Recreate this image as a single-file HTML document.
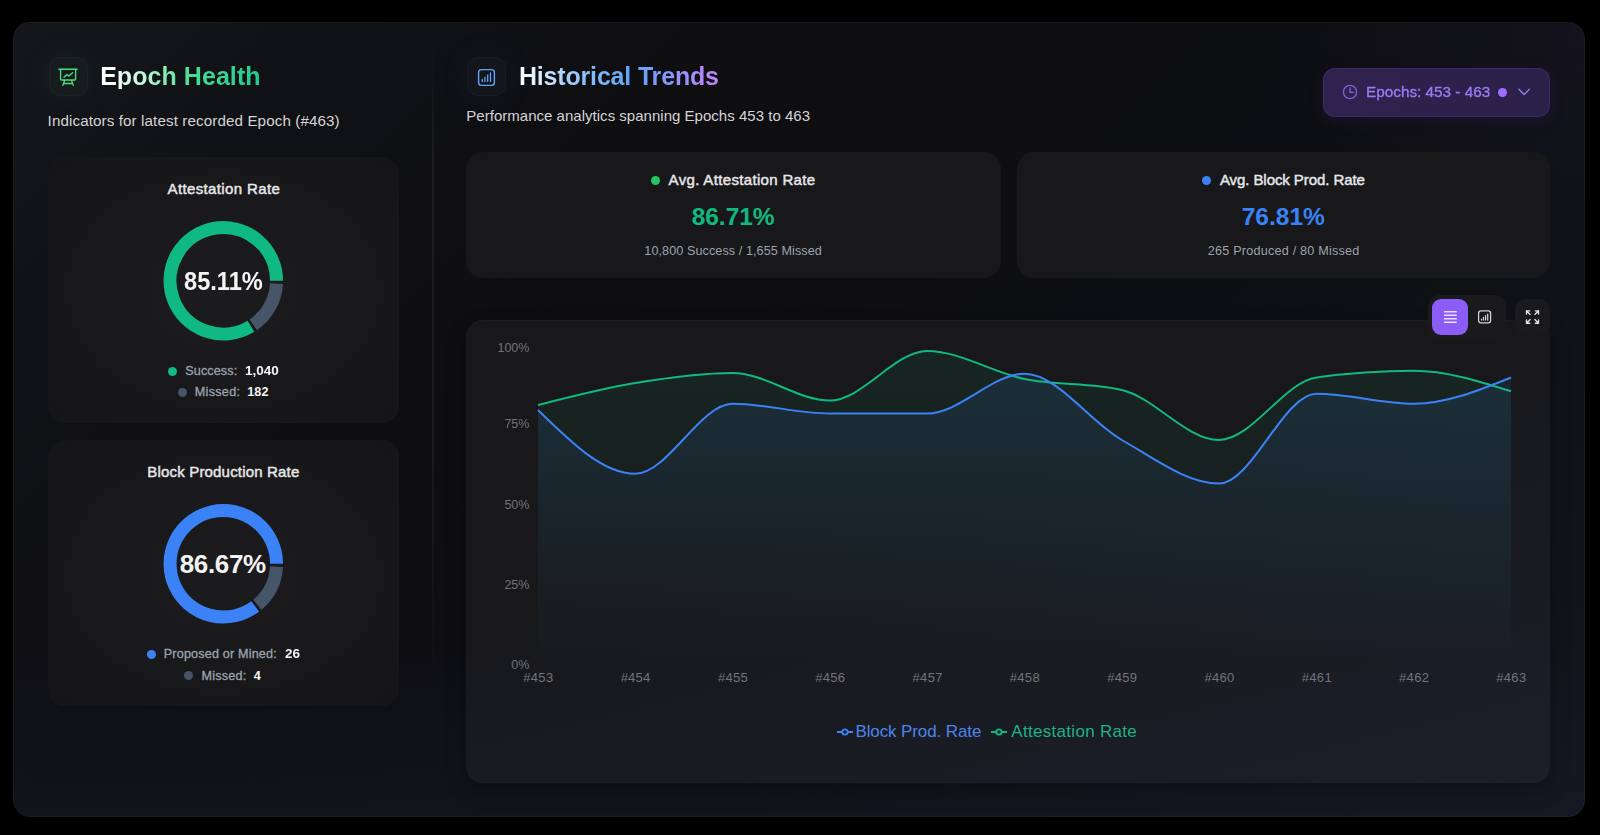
<!DOCTYPE html>
<html lang="en">
<head>
<meta charset="utf-8">
<title>Epoch Health</title>
<style>
*{box-sizing:border-box;margin:0;padding:0}
html,body{width:1600px;height:835px;background:#000;overflow:hidden}
body{font-family:"Liberation Sans",sans-serif;color:#e5e7eb;position:relative}
.abs{position:absolute}
#panel{position:absolute;left:13px;top:22px;width:1572px;height:795px;border-radius:17px;
 background:radial-gradient(circle 280px at 100% 0%,rgba(90,60,170,0.07),rgba(90,60,170,0)),linear-gradient(180deg,rgba(30,38,62,0) 78%,rgba(30,38,62,0.22) 100%),linear-gradient(135deg,#15171c 0%,#101114 14%,#0e0e11 35%,#0e0f12 65%,#12151d 100%);
 box-shadow:inset 0 0 0 1px rgba(255,255,255,0.04)}
.card{position:absolute;background:radial-gradient(ellipse at center,#1c1c1e 0%,#19191b 50%,#151517 100%);border-radius:17px}
.t{position:absolute;white-space:nowrap;line-height:1}
.iconbox{position:absolute;width:40px;height:40px;border-radius:11px}
.dot{position:absolute;border-radius:50%}
</style>
</head>
<body>
<div id="panel"></div>

<div class="abs" style="left:431.500px;top:40px;width:2px;height:760px;background:linear-gradient(180deg,rgba(255,255,255,0),rgba(255,255,255,0.055) 15%,rgba(255,255,255,0.055) 55%,rgba(255,255,255,0) 85%)"></div>
<div class="iconbox" style="left:49px;top:57px;width:39px;height:39px;background:rgba(110,231,183,0.035);box-shadow:0 0 30px 4px rgba(16,185,129,0.06), inset 0 0 0 1px rgba(134,239,172,0.04)"></div>
<svg class="abs" style="left:0;top:0" width="120" height="120" viewBox="0 0 120 120" fill="none" stroke="#4ade80" stroke-width="1.350" stroke-linecap="round" stroke-linejoin="round">
 <path d="M58.900 69.200H77.100M60.600 69.200V79.200a0.800 0.800 0 0 0 0.800 0.800H74.800a0.800 0.800 0 0 0 0.800-0.800V69.200M64.700 80.200L62.900 85.400M71.500 80.200L73.300 85.400M63.600 83.500H72.600"/>
 <path d="M64 77.300L66.900 74.400L68.800 76.100L72.600 72.700"/>
</svg>
<div class="t" style="left:100.15px;top:64.30px;font-size:25.00px;font-weight:700;letter-spacing:0.059px;background:linear-gradient(90deg,#ffffff 0%,#ffffff 6%,#b5f5d3 30%,#4ade90 55%,#22c993 100%);-webkit-background-clip:text;background-clip:text;color:transparent;">Epoch Health</div>
<div class="t" style="left:47.60px;top:112.80px;font-size:15.20px;letter-spacing:0.100px;color:#d4d4d8;">Indicators for latest recorded Epoch (#463)</div>
<div class="card" style="left:48px;top:157px;width:351px;height:266px"></div>
<div class="t" style="left:167.50px;top:181.20px;font-size:15.00px;letter-spacing:0.373px;color:#e7e7ea;-webkit-text-stroke:0.45px #e7e7ea;">Attestation Rate</div>
<svg class="abs" style="left:0;top:0" width="450" height="835" viewBox="0 0 450 835"><path d="M250.96,326.31A53.25,53.25,0,1,1,276.55,280.80" fill="none" stroke="#10b981" stroke-width="13.00"/><path d="M276.48,283.59A53.25,53.25,0,0,1,253.30,324.80" fill="none" stroke="#475569" stroke-width="13.00"/></svg>
<div class="t" style="left:183.77px;top:267.50px;font-size:26.00px;font-weight:700;color:#f4f4f5;transform:scaleX(0.9086);transform-origin:0 0;">85.11%</div>
<div class="dot" style="left:168.00px;top:366.50px;width:9.00px;height:9.00px;background:#10b981"></div>
<div class="t" style="left:185.25px;top:364.60px;font-size:12.60px;letter-spacing:0.114px;color:#9ca3af;-webkit-text-stroke:0.30px #9ca3af;">Success:</div>
<div class="t" style="left:244.69px;top:364.60px;font-size:12.60px;font-weight:700;color:#f4f4f5;transform:scaleX(1.0744);transform-origin:0 0;">1,040</div>
<div class="dot" style="left:178.00px;top:387.50px;width:9.00px;height:9.00px;background:#475569"></div>
<div class="t" style="left:194.80px;top:386.00px;font-size:12.60px;letter-spacing:0.292px;color:#9ca3af;-webkit-text-stroke:0.30px #9ca3af;">Missed:</div>
<div class="t" style="left:247.25px;top:386.00px;font-size:12.60px;font-weight:700;letter-spacing:0.100px;color:#f4f4f5;">182</div>
<div class="card" style="left:48px;top:440px;width:351px;height:266px"></div>
<div class="t" style="left:147.30px;top:464.20px;font-size:15.00px;letter-spacing:0.178px;color:#e7e7ea;-webkit-text-stroke:0.45px #e7e7ea;">Block Production Rate</div>
<svg class="abs" style="left:0;top:0" width="450" height="835" viewBox="0 0 450 835"><path d="M255.21,606.43A53.25,53.25,0,1,1,276.55,563.80" fill="none" stroke="#3b82f6" stroke-width="13.00"/><path d="M276.48,566.59A53.25,53.25,0,0,1,257.39,604.70" fill="none" stroke="#475569" stroke-width="13.00"/></svg>
<div class="t" style="left:179.70px;top:550.50px;font-size:26.00px;font-weight:700;letter-spacing:-0.340px;color:#f4f4f5;">86.67%</div>
<div class="dot" style="left:146.90px;top:649.50px;width:9.00px;height:9.00px;background:#3b82f6"></div>
<div class="t" style="left:163.80px;top:648.20px;font-size:12.60px;letter-spacing:0.176px;color:#9ca3af;-webkit-text-stroke:0.30px #9ca3af;">Proposed or Mined:</div>
<div class="t" style="left:284.67px;top:648.20px;font-size:12.60px;font-weight:700;color:#f4f4f5;transform:scaleX(1.0758);transform-origin:0 0;">26</div>
<div class="dot" style="left:184.30px;top:670.70px;width:9.00px;height:9.00px;background:#475569"></div>
<div class="t" style="left:201.40px;top:669.80px;font-size:12.60px;letter-spacing:0.258px;color:#9ca3af;-webkit-text-stroke:0.30px #9ca3af;">Missed:</div>
<div class="t" style="left:253.75px;top:669.80px;font-size:12.60px;font-weight:700;color:#f4f4f5;">4</div>
<div class="iconbox" style="left:467px;top:57px;width:39px;height:39px;background:rgba(147,197,253,0.035);box-shadow:0 0 30px 4px rgba(59,130,246,0.06), inset 0 0 0 1px rgba(147,197,253,0.04)"></div>
<svg class="abs" style="left:440px;top:40px" width="80" height="80" viewBox="440 40 80 80" fill="none" stroke="#60a5fa" stroke-width="1.400" stroke-linecap="round" stroke-linejoin="round">
 <rect x="478.600" y="69.600" width="15.800" height="15.800" rx="2.800"/>
 <path d="M482.300 81.500V79.400M485 81.500V77.200M487.700 81.500V75M490.500 81.500V72.800" stroke-width="1.300"/>
</svg>
<div class="t" style="left:518.95px;top:64.40px;font-size:25.00px;font-weight:700;letter-spacing:-0.175px;background:linear-gradient(90deg,#ffffff 0%,#93c5fd 30%,#60a5fa 55%,#c084fc 100%);-webkit-background-clip:text;background-clip:text;color:transparent;">Historical Trends</div>
<div class="t" style="left:466.30px;top:107.50px;font-size:15.00px;letter-spacing:0.022px;color:#d4d4d8;">Performance analytics spanning Epochs 453 to 463</div>
<div class="abs" style="left:1323px;top:68px;width:227px;height:49px;border-radius:12px;background:linear-gradient(90deg,#30224f,#2a2149);box-shadow:inset 0 0 0 1px rgba(139,92,246,0.16),0 4px 16px rgba(88,50,170,0.14)"></div>
<svg class="abs" style="left:1341.700px;top:84px" width="16" height="16" viewBox="0 0 16 16" fill="none" stroke="#7f5fd0" stroke-width="1.400" stroke-linecap="round" stroke-linejoin="round"><circle cx="8" cy="8" r="6.600"/><path d="M8 4v4.200h3.400"/></svg>
<div class="t" style="left:1365.99px;top:84.90px;font-size:14.50px;color:#9a7bf0;-webkit-text-stroke:0.35px #9a7bf0;transform:scaleX(1.0556);transform-origin:0 0;">Epochs: 453 - 463</div>
<div class="dot" style="left:1498.20px;top:87.80px;width:8.80px;height:8.80px;background:#9b6eff"></div>
<svg class="abs" style="left:1517px;top:87px" width="14" height="10" viewBox="0 0 14 10" fill="none" stroke="#9a7bf0" stroke-width="1.400" stroke-linecap="round" stroke-linejoin="round"><path d="M1.900 2.300l5.200 5.300 5.200-5.300"/></svg>
<div class="card" style="left:466px;top:152px;width:535px;height:126px;background:#18181a"></div>
<div class="dot" style="left:650.65px;top:175.85px;width:9.50px;height:9.50px;background:#22c55e"></div>
<div class="t" style="left:668.60px;top:172.10px;font-size:15.00px;letter-spacing:0.337px;color:#e7e7ea;-webkit-text-stroke:0.45px #e7e7ea;">Avg. Attestation Rate</div>
<div class="t" style="left:691.65px;top:205.10px;font-size:24.50px;font-weight:700;letter-spacing:-0.020px;color:#10b981;">86.71%</div>
<div class="t" style="left:644.30px;top:245.25px;font-size:12.60px;letter-spacing:0.089px;color:#9ca3af;">10,800 Success / 1,655 Missed</div>
<div class="card" style="left:1017px;top:152px;width:533px;height:126px;background:#18181a"></div>
<div class="dot" style="left:1201.85px;top:175.85px;width:9.50px;height:9.50px;background:#3b82f6"></div>
<div class="t" style="left:1219.90px;top:172.10px;font-size:15.00px;letter-spacing:-0.073px;color:#e7e7ea;-webkit-text-stroke:0.45px #e7e7ea;">Avg. Block Prod. Rate</div>
<div class="t" style="left:1241.70px;top:205.10px;font-size:24.50px;font-weight:700;letter-spacing:0.020px;color:#3b82f6;">76.81%</div>
<div class="t" style="left:1207.80px;top:245.25px;font-size:12.60px;letter-spacing:0.226px;color:#9ca3af;">265 Produced / 80 Missed</div>
<div class="card" style="left:466px;top:320px;width:1084px;height:463px;background:linear-gradient(166deg,#18181a 0%,#18181a 40%,#1b1f2a 100%);box-shadow:0 8px 20px rgba(0,0,0,0.25), inset 0 1px 0 rgba(255,255,255,0.025)"></div>
<svg class="abs" style="left:0;top:0" width="1600" height="835" viewBox="0 0 1600 835">
 <defs>
  <linearGradient id="gG" x1="0" y1="0" x2="0" y2="1"><stop offset="0" stop-color="#10b981" stop-opacity="0.085"/><stop offset="1" stop-color="#10b981" stop-opacity="0"/></linearGradient>
  <linearGradient id="gB" x1="0" y1="0" x2="0" y2="1"><stop offset="0" stop-color="#3b82f6" stop-opacity="0.11"/><stop offset="1" stop-color="#3b82f6" stop-opacity="0"/></linearGradient>
 </defs>
 <path fill="url(#gG)" d="M538.00,405.00C570.43,396.67,602.87,388.33,635.30,383.00C667.73,377.67,700.17,373.00,732.60,373.00C765.03,373.00,797.47,400.50,829.90,400.50C862.33,400.50,894.77,351.00,927.20,351.00C959.63,351.00,992.07,372.50,1024.50,379.00C1056.93,385.50,1089.37,382.67,1121.80,390.00C1154.23,397.33,1186.67,440.00,1219.10,440.00C1251.53,440.00,1283.97,382.00,1316.40,377.50C1348.83,373.00,1381.27,370.75,1413.70,370.75C1446.13,370.75,1478.57,381.00,1511.00,391.25 L1511,664L538,664Z"/>
 <path fill="url(#gB)" d="M538.00,410.00C570.43,441.88,602.87,473.75,635.30,473.75C667.73,473.75,700.17,403.75,732.60,403.75C765.03,403.75,797.47,413.50,829.90,413.50C862.33,413.50,894.77,413.50,927.20,413.50C959.63,413.50,992.07,373.75,1024.50,373.75C1056.93,373.75,1089.37,421.71,1121.80,440.00C1154.23,458.29,1186.67,483.50,1219.10,483.50C1251.53,483.50,1283.97,393.75,1316.40,393.75C1348.83,393.75,1381.27,403.75,1413.70,403.75C1446.13,403.75,1478.57,390.62,1511.00,377.50 L1511,664L538,664Z"/>
 <path fill="none" stroke="#10b981" stroke-width="2" d="M538.00,405.00C570.43,396.67,602.87,388.33,635.30,383.00C667.73,377.67,700.17,373.00,732.60,373.00C765.03,373.00,797.47,400.50,829.90,400.50C862.33,400.50,894.77,351.00,927.20,351.00C959.63,351.00,992.07,372.50,1024.50,379.00C1056.93,385.50,1089.37,382.67,1121.80,390.00C1154.23,397.33,1186.67,440.00,1219.10,440.00C1251.53,440.00,1283.97,382.00,1316.40,377.50C1348.83,373.00,1381.27,370.75,1413.70,370.75C1446.13,370.75,1478.57,381.00,1511.00,391.25"/>
 <path fill="none" stroke="#3b82f6" stroke-width="2" d="M538.00,410.00C570.43,441.88,602.87,473.75,635.30,473.75C667.73,473.75,700.17,403.75,732.60,403.75C765.03,403.75,797.47,413.50,829.90,413.50C862.33,413.50,894.77,413.50,927.20,413.50C959.63,413.50,992.07,373.75,1024.50,373.75C1056.93,373.75,1089.37,421.71,1121.80,440.00C1154.23,458.29,1186.67,483.50,1219.10,483.50C1251.53,483.50,1283.97,393.75,1316.40,393.75C1348.83,393.75,1381.27,403.75,1413.70,403.75C1446.13,403.75,1478.57,390.62,1511.00,377.50"/>
</svg>
<div class="t" style="left:497.45px;top:342.30px;font-size:12.50px;color:#737378;">100%</div>
<div class="t" style="left:504.40px;top:418.10px;font-size:12.50px;color:#737378;">75%</div>
<div class="t" style="left:504.40px;top:499.00px;font-size:12.50px;color:#737378;">50%</div>
<div class="t" style="left:504.40px;top:578.90px;font-size:12.50px;color:#737378;">25%</div>
<div class="t" style="left:511.35px;top:658.70px;font-size:12.50px;color:#737378;">0%</div>
<div class="t" style="left:523.35px;top:670.80px;font-size:13.00px;letter-spacing:0.283px;color:#737378;">#453</div>
<div class="t" style="left:620.65px;top:670.80px;font-size:13.00px;letter-spacing:0.233px;color:#737378;">#454</div>
<div class="t" style="left:717.95px;top:670.80px;font-size:13.00px;letter-spacing:0.283px;color:#737378;">#455</div>
<div class="t" style="left:815.25px;top:670.80px;font-size:13.00px;letter-spacing:0.283px;color:#737378;">#456</div>
<div class="t" style="left:912.55px;top:670.80px;font-size:13.00px;letter-spacing:0.317px;color:#737378;">#457</div>
<div class="t" style="left:1009.85px;top:670.80px;font-size:13.00px;letter-spacing:0.283px;color:#737378;">#458</div>
<div class="t" style="left:1107.15px;top:670.80px;font-size:13.00px;letter-spacing:0.300px;color:#737378;">#459</div>
<div class="t" style="left:1204.45px;top:670.80px;font-size:13.00px;letter-spacing:0.267px;color:#737378;">#460</div>
<div class="t" style="left:1301.75px;top:670.80px;font-size:13.00px;letter-spacing:0.317px;color:#737378;">#461</div>
<div class="t" style="left:1399.05px;top:670.80px;font-size:13.00px;letter-spacing:0.317px;color:#737378;">#462</div>
<div class="t" style="left:1496.35px;top:670.80px;font-size:13.00px;letter-spacing:0.283px;color:#737378;">#463</div>
<svg class="abs" style="left:837px;top:726px" width="16" height="12" viewBox="0 0 16 12" fill="none" stroke="#3b82f6" stroke-width="1.800"><path d="M0 6h5M11 6h5"/><circle cx="8" cy="6" r="2.700"/></svg>
<div class="t" style="left:855.45px;top:722.70px;font-size:17.00px;letter-spacing:-0.110px;color:#4b84ea;">Block Prod. Rate</div>
<svg class="abs" style="left:991px;top:726px" width="16" height="12" viewBox="0 0 16 12" fill="none" stroke="#10b981" stroke-width="1.800"><path d="M0 6h5M11 6h5"/><circle cx="8" cy="6" r="2.700"/></svg>
<div class="t" style="left:1011.30px;top:722.70px;font-size:17.00px;letter-spacing:0.300px;color:#1fb183;">Attestation Rate</div>
<div class="abs" style="left:1428px;top:295px;width:78px;height:44px;border-radius:12px;background:#1a1a1c"></div>
<div class="abs" style="left:1432px;top:298.500px;width:36px;height:36px;border-radius:9px;background:#8b5cf6"></div>
<div class="abs" style="left:1515px;top:299px;width:35px;height:36px;border-radius:10px;background:#1a1a1c"></div>
<svg class="abs" style="left:1420px;top:290px" width="140" height="55" viewBox="1420 290 140 55" fill="none" stroke-linecap="round" stroke-linejoin="round">
 <path stroke="#eaddff" stroke-width="1.400" stroke-linecap="butt" d="M1444 311.800h12.800M1444 315.300h12.800M1444 318.800h12.800M1444 322.200h12.800"/>
 <g stroke="#d4d4d8" stroke-width="1.250"><rect x="1478.600" y="310.900" width="12" height="12" rx="2.300"/><path d="M1481.500 320v-1M1483.500 320v-2.600M1485.600 320v-4.300M1487.700 320v-6"/></g>
 <path stroke="#e4e4e7" stroke-width="1.350" d="M1526.500 314v-3.200h3.200M1526.500 310.800l3.600 3.600M1538.500 314v-3.200h-3.200M1538.500 310.800l-3.600 3.600M1526.500 320v3.200h3.200M1526.500 323.200l3.600-3.600M1538.500 320v3.200h-3.200M1538.500 323.200l-3.600-3.600"/>
</svg>
</body>
</html>
